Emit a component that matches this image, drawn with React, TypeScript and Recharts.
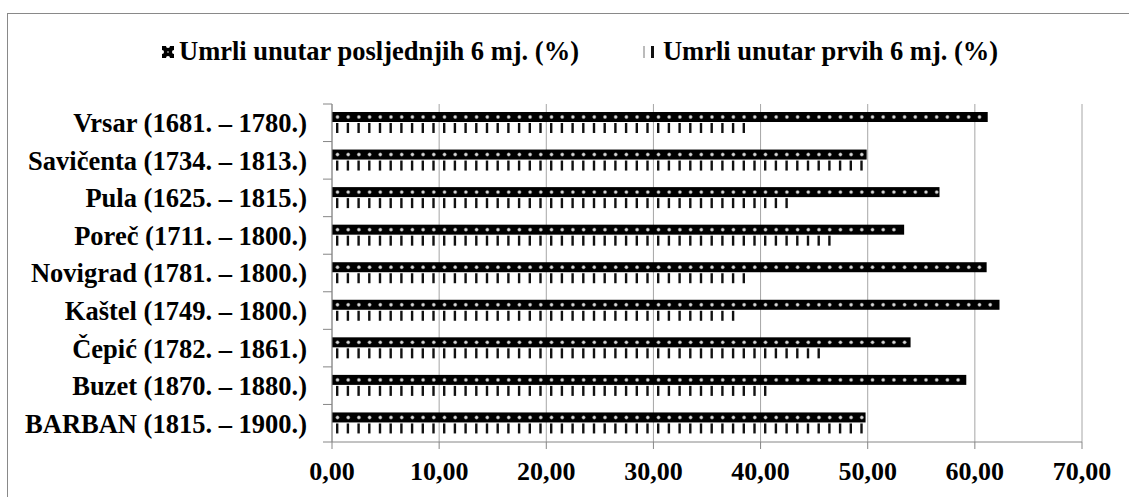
import { BarChart, Bar, XAxis, YAxis, CartesianGrid, Legend } from 'recharts';

const categories = [
  'Vrsar (1681. – 1780.)',
  'Savičenta (1734. – 1813.)',
  'Pula (1625. – 1815.)',
  'Poreč (1711. – 1800.)',
  'Novigrad (1781. – 1800.)',
  'Kaštel (1749. – 1800.)',
  'Čepić (1782. – 1861.)',
  'Buzet (1870. – 1880.)',
  'BARBAN (1815. – 1900.)',
];
const lastSixMonths = [61.2, 49.9, 56.7, 53.4, 61.1, 62.3, 54.0, 59.2, 49.8];
const firstSixMonths = [38.7, 49.8, 42.7, 46.5, 38.7, 37.6, 45.8, 40.7, 49.7];
const xTicks = [0, 10, 20, 30, 40, 50, 60, 70];
const seriesNames = ['Umrli unutar posljednjih 6 mj. (%)', 'Umrli unutar prvih 6 mj. (%)'];

const data = categories.map((name, i) => ({
  name,
  last: lastSixMonths[i],
  first: firstSixMonths[i],
}));

const W = 1129;
const H = 497;
const TOP = 104;
const X_AXIS_H = 55;
const Y_AXIS_W = 332;
const BAND = (H - TOP - X_AXIS_H) / categories.length;
const FONT = '"Liberation Serif", "Times New Roman", serif';
const AXIS = '#868686';
const STEP = 10.7;

// black bar with a row of white dots
const DotBar = (props: any) => {
  const { x, y, width, height } = props;
  if (!width || width <= 0) return null;
  const dots = [];
  for (let cx = x + 5.5; cx < x + width - 1.5; cx += STEP) {
    dots.push(
      <circle key={cx} cx={cx} cy={y + height / 2} r={1.7} fill="#d8d8d8" stroke="#777" strokeWidth={0.5} />
    );
  }
  return (
    <g>
      <rect x={x} y={y} width={width} height={height} fill="#000" />
      {dots}
    </g>
  );
};

// white bar filled with thin vertical strokes
const TickBar = (props: any) => {
  const { x, y, width, height } = props;
  if (!width || width <= 0) return null;
  const ticks = [];
  for (let tx = x + 4; tx + 2 <= x + width + 0.5; tx += STEP) {
    ticks.push(<rect key={tx} x={tx} y={y} width={2.4} height={height} fill="#111" />);
  }
  return <g>{ticks}</g>;
};

const CategoryTick = (props: any) => {
  const { y, payload, index } = props;
  const top = y - BAND / 2;
  return (
    <g>
      <text
        x={Y_AXIS_W - 25}
        y={y}
        dy="0.355em"
        textAnchor="end"
        fontFamily={FONT}
        fontWeight="bold"
        fontSize={26.5}
        fill="#000"
      >
        {payload.value}
      </text>
      <line x1={Y_AXIS_W - 9} x2={Y_AXIS_W} y1={top} y2={top} stroke={AXIS} />
      {index === categories.length - 1 && (
        <line x1={Y_AXIS_W - 9} x2={Y_AXIS_W} y1={y + BAND / 2} y2={y + BAND / 2} stroke={AXIS} />
      )}
    </g>
  );
};

const LegendIcon = ({ kind }: { kind: string }) =>
  kind === 'last' ? (
    <svg width={12} height={12} style={{ marginRight: 5 }}>
      <rect x={0} y={0} width={12} height={12} fill="#000" />
      <circle cx={6} cy={0} r={2} fill="#fff" />
      <circle cx={6} cy={12} r={2} fill="#fff" />
      <circle cx={0} cy={6} r={2} fill="#fff" />
      <circle cx={12} cy={6} r={2} fill="#fff" />
      <circle cx={6} cy={6} r={1} fill="#888" />
    </svg>
  ) : (
    <svg width={12} height={12} style={{ marginRight: 8 }}>
      <rect x={0} y={0} width={2} height={12} fill="#bbb" />
      <rect x={8} y={0} width={3} height={12} fill="#111" />
    </svg>
  );

const renderLegend = (props: any) => {
  const { payload } = props;
  return (
    <div
      style={{
        display: 'flex',
        alignItems: 'center',
        paddingLeft: 162,
        whiteSpace: 'nowrap',
        fontFamily: FONT,
        fontWeight: 'bold',
        fontSize: 26.5,
        lineHeight: '29px',
        color: '#000',
      }}
    >
      {(payload || []).map((entry: any, i: number) => (
        <div
          key={entry.dataKey}
          style={{ display: 'flex', alignItems: 'center', marginRight: i === 0 ? 64 : 0 }}
        >
          <LegendIcon kind={entry.dataKey} />
          <span>{entry.value}</span>
        </div>
      ))}
    </div>
  );
};

const fmt = (v: number) => v.toFixed(2).replace('.', ',');

export default function App() {
  return (
    <div
      style={{
        position: 'absolute',
        left: 0,
        top: 0,
        width: W,
        height: H,
        overflow: 'hidden',
        background: '#fff',
      }}
    >
      <div
        style={{
          position: 'absolute',
          left: 7,
          top: 13,
          width: W + 50,
          height: H + 50,
          border: '1px solid #898989',
        }}
      />
      <div style={{ position: 'absolute', left: 0, top: 0 }}>
        <BarChart
          width={W}
          height={H}
          data={data}
          layout="vertical"
          margin={{ top: TOP, right: 47, bottom: 0, left: 0 }}
          barSize={10}
          barGap={1}
        >
          <CartesianGrid horizontal={false} stroke="#a6a6a6" />
          <XAxis
            type="number"
            domain={[0, 70]}
            ticks={xTicks}
            height={X_AXIS_H}
            tickFormatter={fmt}
            stroke={AXIS}
            tickSize={7}
            tickMargin={13}
            tick={{ fontFamily: FONT, fontWeight: 'bold', fontSize: 26, fill: '#000' }}
          />
          <YAxis
            type="category"
            dataKey="name"
            width={Y_AXIS_W}
            stroke={AXIS}
            tickLine={false}
            tickSize={8}
            tickMargin={17}
            interval={0}
            tick={<CategoryTick />}
          />
          <Legend
            verticalAlign="middle"
            align="center"
            layout="horizontal"
            wrapperStyle={{ top: 37, left: 0, width: W }}
            content={renderLegend}
          />
          <Bar
            dataKey="last"
            name={seriesNames[0]}
            fill="#000"
            shape={<DotBar />}
            isAnimationActive={false}
          />
          <Bar
            dataKey="first"
            name={seriesNames[1]}
            fill="#111"
            shape={<TickBar />}
            isAnimationActive={false}
          />
        </BarChart>
      </div>
    </div>
  );
}
